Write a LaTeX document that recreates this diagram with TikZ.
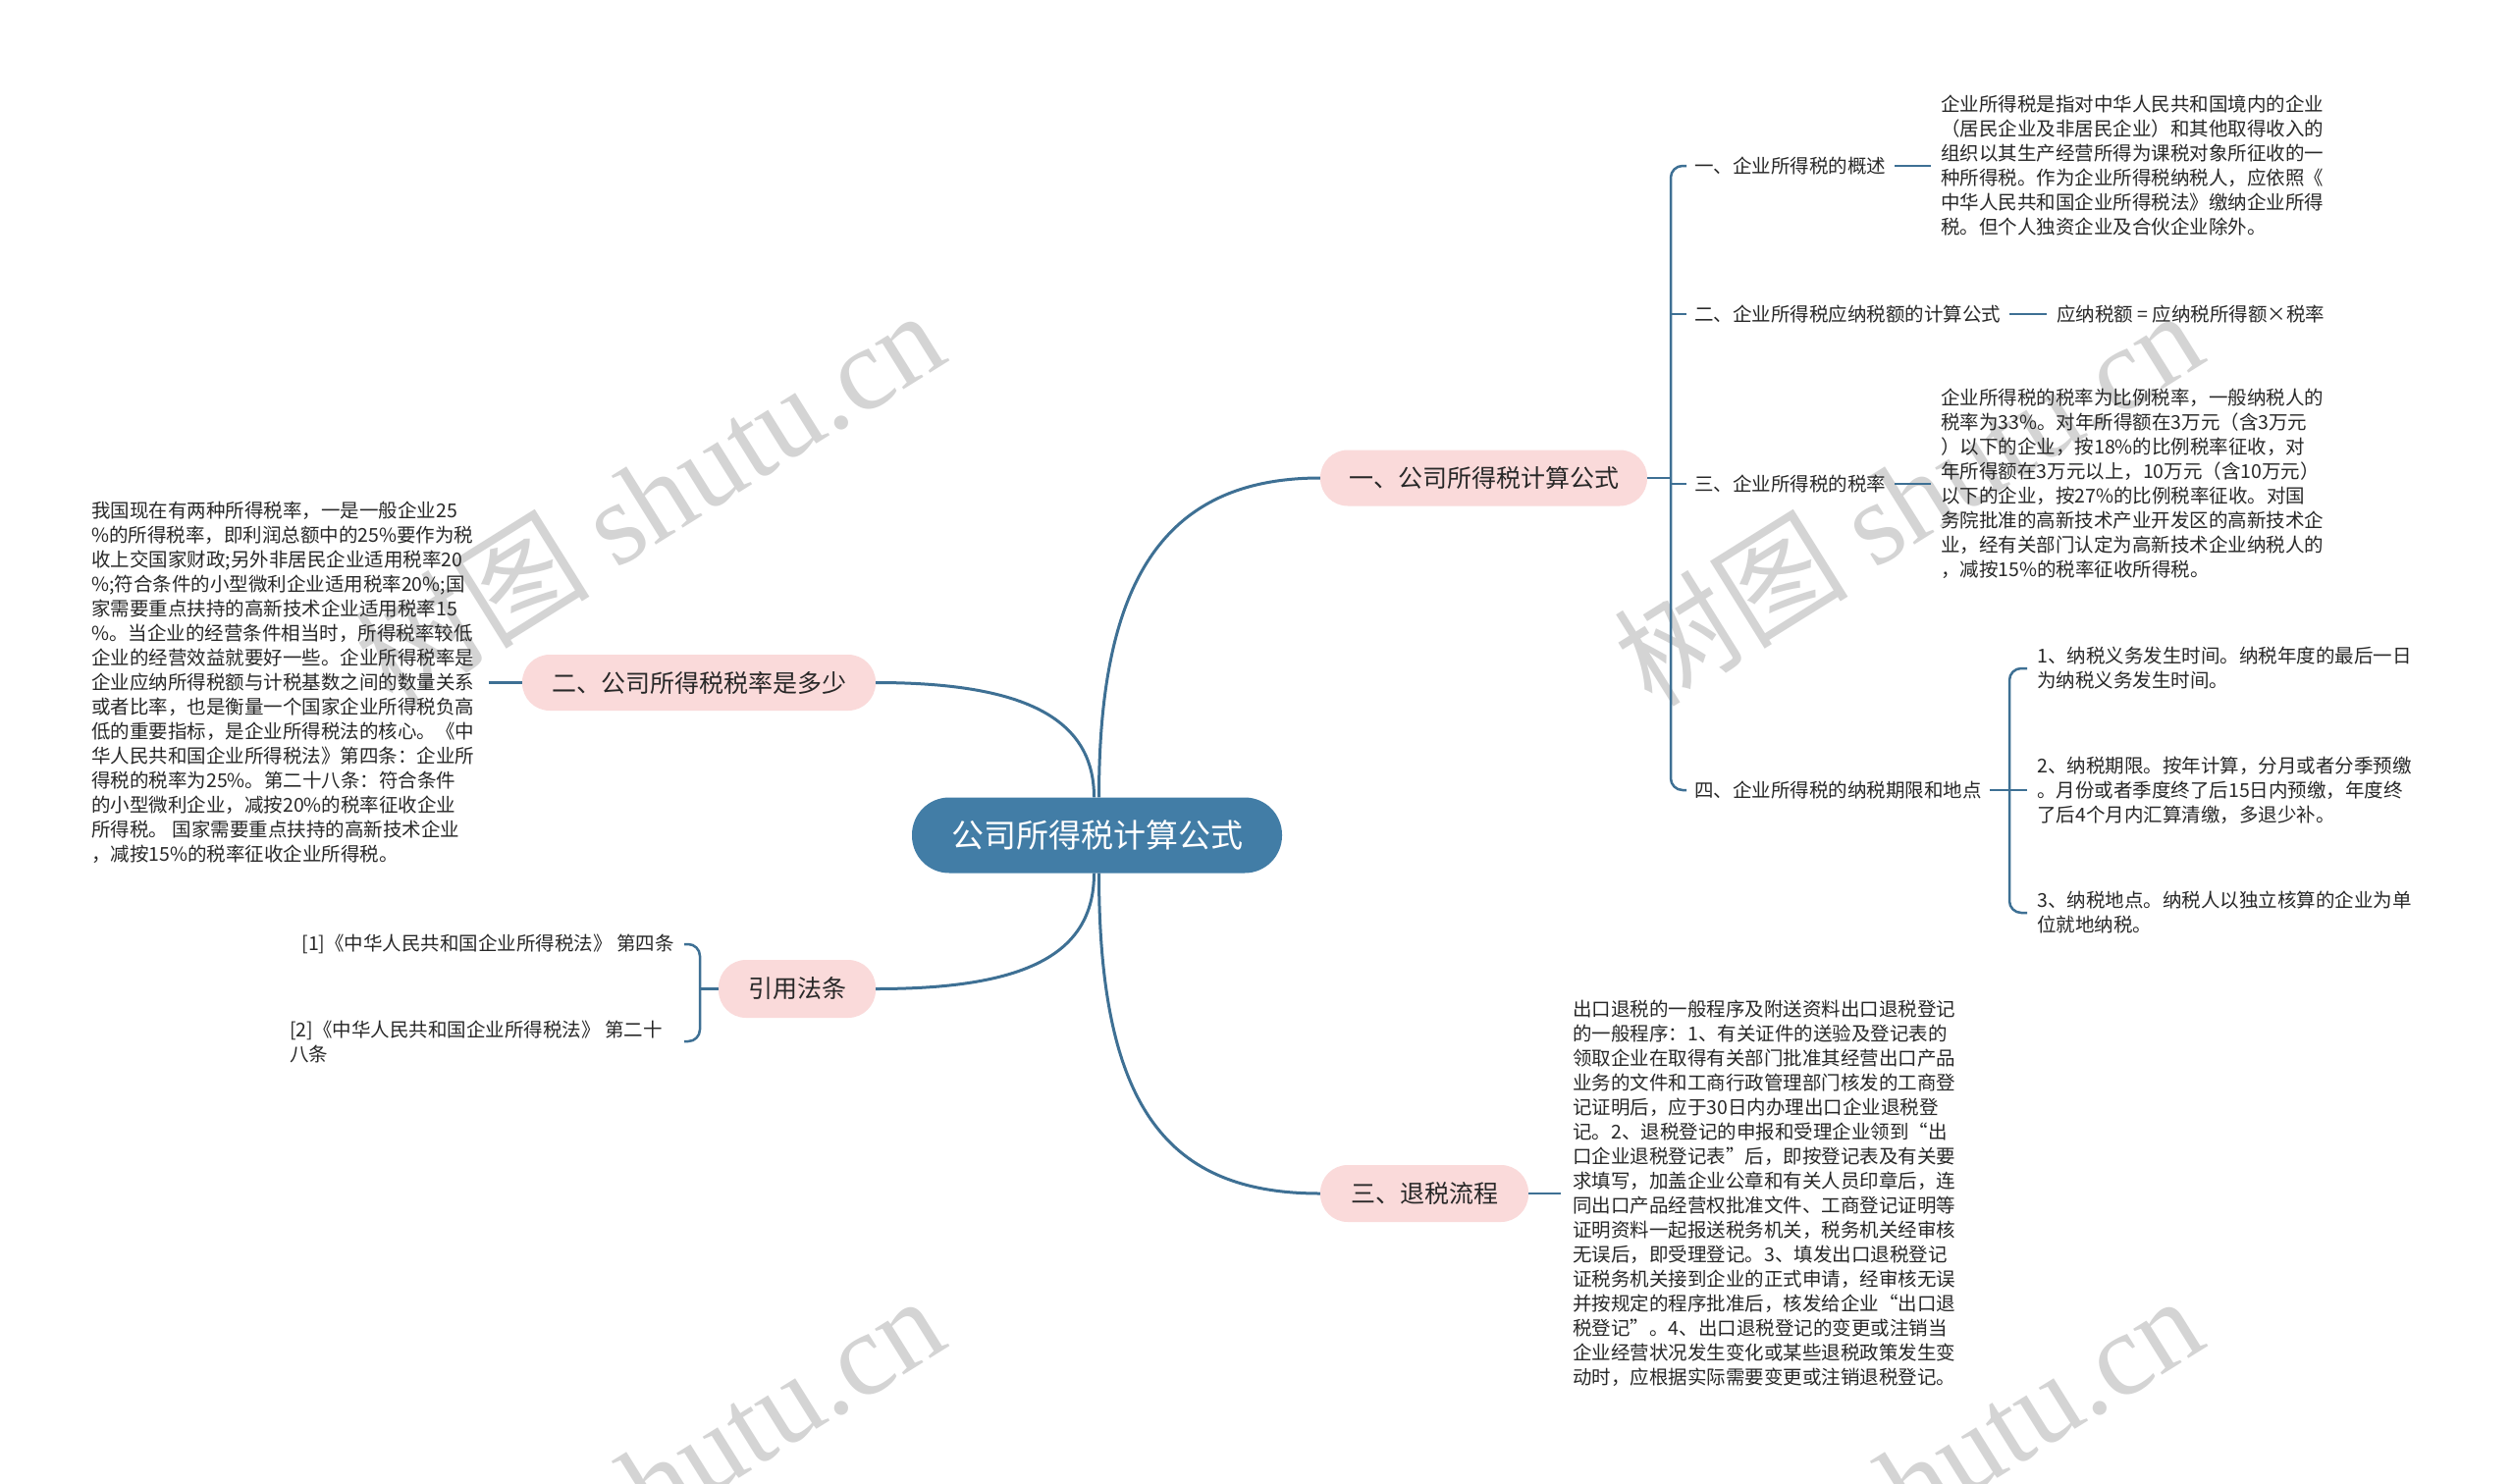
\documentclass[tikz,border=0pt]{standalone}
\usepackage{fontspec}
\setmainfont{Noto Sans CJK SC}
\newfontfamily\wmserif{Liberation Serif}
\definecolor{linec}{RGB}{62,112,148}
\definecolor{rootc}{RGB}{66,125,166}
\definecolor{pinkc}{RGB}{250,218,218}
\definecolor{txtc}{RGB}{40,40,40}
\definecolor{wmc}{RGB}{212,212,212}
\begin{document}
\begin{tikzpicture}[x=1pt,y=-1pt,
  conn/.style={draw=linec,line width=3pt},
  sub/.style={draw=linec,line width=2.5pt,rounded corners=12pt},
  root/.style={fill=rootc,text=white,rounded corners=38pt,minimum width=377pt,minimum height=77pt,inner sep=0pt,font=\fontsize{33}{36}\selectfont},
  branch/.style={fill=pinkc,text=txtc,rounded corners=28pt,minimum height=57pt,inner sep=0pt,font=\fontsize{25}{28}\selectfont},
  leaf/.style={text=txtc,inner sep=0pt,align=left,anchor=west,font=\fontsize{19.5}{25}\selectfont},
  wm/.style={text=wmc,rotate=32,font=\fontsize{120}{130}\selectfont}]
\fill[white] (0,0) rectangle (2560,1512);
\useasboundingbox (0,0) rectangle (2560,1512);
% watermarks
\begin{scope}
\clip (0,0) rectangle (2560,1512);
\node[wm] (wm1) at (661,506) {树图 {\wmserif shutu.cn}};
\node[wm] (wm2) at (1943,506) {树图 {\wmserif shutu.cn}};
\node[wm] (wm3) at (661,1510) {树图 {\wmserif shutu.cn}};
\node[wm] (wm4) at (1943,1510) {树图 {\wmserif shutu.cn}};
\end{scope}
% main nodes
\node[root] (c) at (1117.5,851) {公司所得税计算公式};
\node[branch,minimum width=333pt] (n1) at (1511.5,487) {一、公司所得税计算公式};
\node[branch,minimum width=360pt] (n2) at (712,695.5) {二、公司所得税税率是多少};
\node[branch,minimum width=160pt,minimum height=59pt] (n3) at (812,1007.5) {引用法条};
\node[branch,minimum width=212pt,minimum height=58pt] (n4) at (1451,1216) {三、退税流程};
\draw[conn] ([xshift=2pt]c.north) .. controls (1119.5,600) and (1180,487) .. (n1.west);
\draw[conn] ([xshift=-3pt]c.north) .. controls (1114.5,730) and (1040,695.5) .. (n2.east);
\draw[conn] ([xshift=-3pt]c.south) .. controls (1114.5,975) and (1040,1007.5) .. (n3.east);
\draw[conn] ([xshift=2pt]c.south) .. controls (1119.5,1130) and (1190,1216) .. (n4.west);
% branch 1
\node[leaf] (c1) at (1726,169) {一、企业所得税的概述};
\node[leaf] (c2) at (1726,320) {二、企业所得税应纳税额的计算公式};
\node[leaf] (c3) at (1726,493) {三、企业所得税的税率};
\node[leaf] (c4) at (1726,805) {四、企业所得税的纳税期限和地点};
\coordinate (b1) at (1702,487);
\draw[sub] (n1.east) -- (b1);
\draw[sub] ([xshift=-8pt]c1.west) -- (c1.west -| b1) -- (c4.west -| b1) -- ([xshift=-8pt]c4.west);
\draw[sub] (c2.west -| b1) -- ([xshift=-8pt]c2.west);
\draw[sub] (c3.west -| b1) -- ([xshift=-8pt]c3.west);
\node[leaf] (p1) at (1977,169) {企业所得税是指对中华人民共和国境内的企业\\
（居民企业及非居民企业）和其他取得收入的\\
组织以其生产经营所得为课税对象所征收的一\\
种所得税。作为企业所得税纳税人，应依照《\\
中华人民共和国企业所得税法》缴纳企业所得\\
税。但个人独资企业及合伙企业除外。};
\draw[sub] ([xshift=9pt]c1.east) -- ([xshift=-10pt]p1.west);
\node[leaf] (f2) at (2095,320) {应纳税额 = 应纳税所得额×税率};
\draw[sub] ([xshift=9pt]c2.east) -- ([xshift=-10pt]f2.west);
\node[leaf] (p3) at (1977,493) {企业所得税的税率为比例税率，一般纳税人的\\
税率为33\%。对年所得额在3万元（含3万元\\
）以下的企业，按18\%的比例税率征收，对\\
年所得额在3万元以上，10万元（含10万元）\\
以下的企业，按27\%的比例税率征收。对国\\
务院批准的高新技术产业开发区的高新技术企\\
业，经有关部门认定为高新技术企业纳税人的\\
，减按15\%的税率征收所得税。};
\draw[sub] ([xshift=9pt]c3.east) -- ([xshift=-10pt]p3.west);
\coordinate (b4) at (2047,805);
\draw[sub] ([xshift=8pt]c4.east) -- (b4);
\node[leaf] (d1) at (2075,681) {1、纳税义务发生时间。纳税年度的最后一日\\
为纳税义务发生时间。};
\node[leaf] (d2) at (2075,805) {2、纳税期限。按年计算，分月或者分季预缴\\
。月份或者季度终了后15日内预缴，年度终\\
了后4个月内汇算清缴，多退少补。};
\node[leaf] (d3) at (2075,930) {3、纳税地点。纳税人以独立核算的企业为单\\
位就地纳税。};
\draw[sub] ([xshift=-10pt]d1.west) -- (d1.west -| b4) -- (d3.west -| b4) -- ([xshift=-10pt]d3.west);
\draw[sub] (d2.west -| b4) -- ([xshift=-10pt]d2.west);
% branch 2
\node[leaf] (p2) at (93,695.5) {我国现在有两种所得税率，一是一般企业25\\
\%的所得税率，即利润总额中的25\%要作为税\\
收上交国家财政;另外非居民企业适用税率20\\
\%;符合条件的小型微利企业适用税率20\%;国\\
家需要重点扶持的高新技术企业适用税率15\\
\%。当企业的经营条件相当时，所得税率较低\\
企业的经营效益就要好一些。企业所得税率是\\
企业应纳所得税额与计税基数之间的数量关系\\
或者比率，也是衡量一个国家企业所得税负高\\
低的重要指标，是企业所得税法的核心。《中\\
华人民共和国企业所得税法》第四条：企业所\\
得税的税率为25\%。第二十八条：符合条件\\
的小型微利企业，减按20\%的税率征收企业\\
所得税。 国家需要重点扶持的高新技术企业\\
，减按15\%的税率征收企业所得税。};
\coordinate (p2r) at (498,695.5);
\draw[sub] (n2.west) -- (p2r);
% branch 3
\node[leaf,anchor=east] (e1) at (687,962) {[1]《中华人民共和国企业所得税法》 第四条};
\node[leaf] (e2) at (295,1061) {[2]《中华人民共和国企业所得税法》 第二十\\
八条};
\coordinate (b3) at (713,1007.5);
\coordinate (b3e) at (697,1007.5);
\draw[sub] (e1.east -| b3e) -- (e1.east -| b3) -- (e2.east -| b3) -- (e2.east -| b3e);
\draw[sub] (b3) -- (n3.west);
% branch 4
\node[leaf] (p4) at (1602,1216) {出口退税的一般程序及附送资料出口退税登记\\
的一般程序：1、有关证件的送验及登记表的\\
领取企业在取得有关部门批准其经营出口产品\\
业务的文件和工商行政管理部门核发的工商登\\
记证明后，应于30日内办理出口企业退税登\\
记。2、退税登记的申报和受理企业领到“出\\
口企业退税登记表”后，即按登记表及有关要\\
求填写，加盖企业公章和有关人员印章后，连\\
同出口产品经营权批准文件、工商登记证明等\\
证明资料一起报送税务机关，税务机关经审核\\
无误后，即受理登记。3、填发出口退税登记\\
证税务机关接到企业的正式申请，经审核无误\\
并按规定的程序批准后，核发给企业“出口退\\
税登记”。4、出口退税登记的变更或注销当\\
企业经营状况发生变化或某些退税政策发生变\\
动时，应根据实际需要变更或注销退税登记。};
\draw[sub] (n4.east) -- ([xshift=-12pt]p4.west);
\end{tikzpicture}
\end{document}
